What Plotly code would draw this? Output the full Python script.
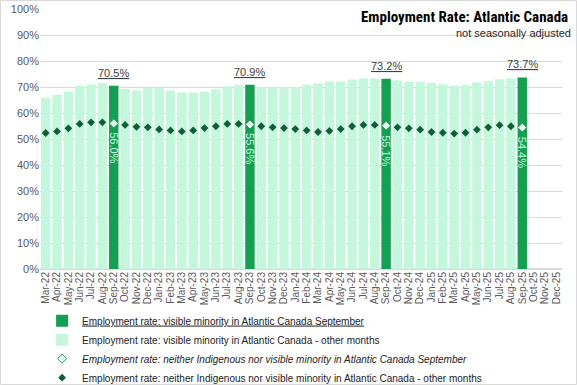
import plotly.graph_objects as go

months = ["Mar-22","Apr-22","May-22","Jun-22","Jul-22","Aug-22","Sep-22","Oct-22","Nov-22","Dec-22",
          "Jan-23","Feb-23","Mar-23","Apr-23","May-23","Jun-23","Jul-23","Aug-23","Sep-23","Oct-23",
          "Nov-23","Dec-23","Jan-24","Feb-24","Mar-24","Apr-24","May-24","Jun-24","Jul-24","Aug-24",
          "Sep-24","Oct-24","Nov-24","Dec-24","Jan-25","Feb-25","Mar-25","Apr-25","May-25","Jun-25",
          "Jul-25","Aug-25","Sep-25","Oct-25","Nov-25","Dec-25"]

visible_minority = [65.9,67.0,68.2,70.4,71.0,71.5,70.5,69.2,68.7,69.7,
                    69.7,68.7,67.9,67.9,68.3,69.1,70.3,70.9,70.9,70.0,
                    69.9,69.9,70.0,70.9,71.3,72.1,72.1,72.9,73.3,73.3,
                    73.2,72.6,72.0,72.0,71.6,71.1,70.5,70.7,71.7,72.2,
                    73.0,73.4,73.7,None,None,None]

neither = [52.3,52.9,54.1,55.8,56.4,56.4,56.0,55.4,54.7,54.5,
           53.7,53.3,52.9,53.3,54.2,54.9,55.8,55.8,55.6,54.9,
           54.5,54.2,53.8,53.3,52.7,53.1,53.8,54.9,55.4,55.4,
           55.1,54.5,54.1,53.6,52.7,52.4,52.1,52.4,53.6,54.5,
           55.3,54.9,54.4,None,None,None]

is_sep = [m.startswith("Sep") for m in months]
vm_sep = [v if s else None for v, s in zip(visible_minority, is_sep)]
vm_other = [None if s else v for v, s in zip(visible_minority, is_sep)]
ne_sep = [v if s else None for v, s in zip(neither, is_sep)]
ne_other = [None if s else v for v, s in zip(neither, is_sep)]

DARK = "#12a150"
MINT = "#c3f8dc"

fig = go.Figure()
fig.add_trace(go.Bar(x=months, y=vm_sep, marker_color=DARK, marker_line_width=0,
                     name="<u>Employment rate: visible minority in Atlantic Canada September</u>"))
fig.add_trace(go.Bar(x=months, y=vm_other, marker_color=MINT, marker_line_width=0,
                     name="Employment rate: visible minority in Atlantic Canada - other months"))
fig.add_trace(go.Scatter(x=months, y=ne_sep, mode="markers",
                         marker=dict(symbol="diamond", size=7, color="#eafbf1",
                                     line=dict(color="#1a9a55", width=1)),
                         name="<i>Employment rate: neither Indigenous nor visible minority in Atlantic Canada September</i>"))
fig.add_trace(go.Scatter(x=months, y=ne_other, mode="markers",
                         marker=dict(symbol="diamond", size=6, color="#0d6035", line=dict(width=0)),
                         name="Employment rate: neither Indigenous nor visible minority in Atlantic Canada - other months"))

annotations = []
for m, v in zip(months, vm_sep):
    if v is not None:
        annotations.append(dict(x=m, y=v, xref="x", yref="y", text=f"<u>{v:.1f}%</u>",
                                showarrow=False, yanchor="bottom", yshift=5,
                                font=dict(size=11, color="#404040", family="Liberation Sans")))
for m, v in zip(months, ne_sep):
    if v is not None:
        annotations.append(dict(x=m, y=v, xref="x", yref="y", text=f"{v:.1f}%",
                                showarrow=False, yanchor="top", yshift=-7, textangle=90,
                                font=dict(size=11, color="#c8f7dc", family="Liberation Sans")))

annotations.append(dict(x=1.0153, y=0.970, xref="paper", yref="paper", xanchor="right", yanchor="middle",
                        text="<b>Employment Rate: Atlantic Canada</b>", showarrow=False,
                        font=dict(size=15, color="#000000",
                                  family="Liberation Sans Narrow, Roboto Condensed, Roboto, Liberation Sans")))
annotations.append(dict(x=1.0205, y=0.909, xref="paper", yref="paper", xanchor="right", yanchor="middle",
                        text="not seasonally adjusted", showarrow=False,
                        font=dict(size=11, color="#262626", family="Liberation Sans")))

fig.update_layout(
    width=577, height=385,
    margin=dict(l=40, r=15, t=9, b=116, autoexpand=False),
    paper_bgcolor="white", plot_bgcolor="white",
    barmode="overlay", bargap=0.17,
    font=dict(family="Liberation Sans", size=10, color="#595959"),
    showlegend=True,
    legend=dict(orientation="v", x=0.004, y=-0.143, xanchor="left", yanchor="top",
                font=dict(size=10, color="#222222"), bgcolor="rgba(0,0,0,0)",
                traceorder="normal", tracegroupgap=0),
    annotations=annotations,
    shapes=[dict(type="rect", xref="paper", yref="paper",
                 x0=(0.5 - 40) / 522, x1=(576.5 - 40) / 522,
                 y0=(269 - 384.5) / 260, y1=(269 - 0.5) / 260,
                 line=dict(color="#d9d9d9", width=1), fillcolor="rgba(0,0,0,0)", layer="below")],
)
fig.update_xaxes(type="category", tickmode="linear", dtick=1, tickangle=-90,
                 tickfont=dict(size=10, color="#595959"), showgrid=False, showline=False,
                 ticks="", range=[-0.5, 45.5], automargin=False)
fig.update_yaxes(range=[0, 100], dtick=10, ticksuffix="%", gridcolor="#d9d9d9", gridwidth=1,
                 zeroline=True, zerolinecolor="#d9d9d9", showline=False,
                 tickfont=dict(size=11, color="#595959"), ticks="", automargin=False)

fig.write_html("out.html", config={"displayModeBar": False},
               post_script="document.body.style.margin='0';document.body.style.padding='0';")
